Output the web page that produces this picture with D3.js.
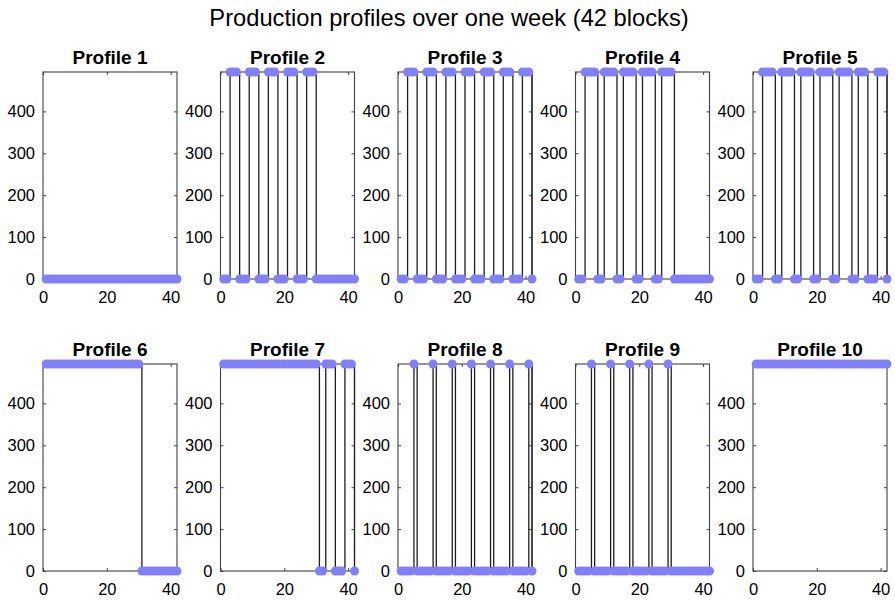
<!DOCTYPE html>
<html>
<head>
<meta charset="utf-8">
<script src="https://cdn.jsdelivr.net/npm/d3@7"></script>
<style>
  body { margin: 0; background: #fff; }
  svg { font-family: "Liberation Sans", Arial, Helvetica, sans-serif; }
</style>
</head>
<body>
<div id="chart"></div>
<script>
// production level when a block is on
var P = 494;

// 42 blocks = 7 days x 6 blocks
var profile1  = [0,0,0,0,0,0, 0,0,0,0,0,0, 0,0,0,0,0,0, 0,0,0,0,0,0, 0,0,0,0,0,0, 0,0,0,0,0,0, 0,0,0,0,0,0];
var profile2  = [0,0,P,P,P,0, 0,0,P,P,P,0, 0,0,P,P,P,0, 0,0,P,P,P,0, 0,0,P,P,P,0, 0,0,0,0,0,0, 0,0,0,0,0,0];
var profile3  = [0,0,P,P,P,0, 0,0,P,P,P,0, 0,0,P,P,P,0, 0,0,P,P,P,0, 0,0,P,P,P,0, 0,0,P,P,P,0, 0,0,P,P,P,0];
var profile4  = [0,0,P,P,P,P, 0,0,P,P,P,P, 0,0,P,P,P,P, 0,0,P,P,P,P, 0,0,P,P,P,P, 0,0,0,0,0,0, 0,0,0,0,0,0];
var profile5  = [0,0,P,P,P,P, 0,0,P,P,P,P, 0,0,P,P,P,P, 0,0,P,P,P,P, 0,0,P,P,P,P, 0,0,P,P,P,0, 0,0,P,P,P,0];
var profile6  = [P,P,P,P,P,P, P,P,P,P,P,P, P,P,P,P,P,P, P,P,P,P,P,P, P,P,P,P,P,P, 0,0,0,0,0,0, 0,0,0,0,0,0];
var profile7  = [P,P,P,P,P,P, P,P,P,P,P,P, P,P,P,P,P,P, P,P,P,P,P,P, P,P,P,P,P,P, 0,0,P,P,P,0, 0,0,P,P,P,0];
var profile8  = [0,0,0,0,P,0, 0,0,0,0,P,0, 0,0,0,0,P,0, 0,0,0,0,P,0, 0,0,0,0,P,0, 0,0,0,0,P,0, 0,0,0,0,P,0];
var profile9  = [0,0,0,0,P,0, 0,0,0,0,P,0, 0,0,0,0,P,0, 0,0,0,0,P,0, 0,0,0,0,P,0, 0,0,0,0,0,0, 0,0,0,0,0,0];
var profile10 = [P,P,P,P,P,P, P,P,P,P,P,P, P,P,P,P,P,P, P,P,P,P,P,P, P,P,P,P,P,P, P,P,P,P,P,P, P,P,P,P,P,P];

var profiles = [profile1, profile2, profile3, profile4, profile5,
                profile6, profile7, profile8, profile9, profile10];
var profileNames = ["Profile 1", "Profile 2", "Profile 3", "Profile 4", "Profile 5",
                    "Profile 6", "Profile 7", "Profile 8", "Profile 9", "Profile 10"];
var blocks = d3.range(1, 43);
var xTicks = [0, 20, 40];
var yTicks = [0, 100, 200, 300, 400];

var width = 895, height = 600;
var panelW = 134, panelH = 207;
var left0 = 43, colStep = 177.5;
var rowTops = [72, 364];
var axisColor = "#404040";

var svg = d3.select("#chart")
  .append("svg")
    .attr("width", width)
    .attr("height", height);

// figure title
svg.append("text")
  .attr("x", 449)
  .attr("y", 26)
  .attr("text-anchor", "middle")
  .style("font-size", "23.7px")
  .text("Production profiles over one week (42 blocks)");

profiles.forEach(function(vals, i) {
  var col = i % 5, row = Math.floor(i / 5);
  var g = svg.append("g")
    .attr("transform", "translate(" + (left0 + col * colStep) + "," + rowTops[row] + ")");

  var x = d3.scaleLinear().domain([0, 42]).range([0, panelW]);
  var y = d3.scaleLinear().domain([0, P]).range([panelH, 0]);

  // bottom / left axes with labels, ticks pointing inward
  var xAxis = g.append("g")
    .attr("transform", "translate(0," + panelH + ")")
    .call(d3.axisBottom(x).tickValues(xTicks).tickSizeInner(-3).tickSizeOuter(0).tickPadding(12));
  var yAxis = g.append("g")
    .call(d3.axisLeft(y).tickValues(yTicks).tickSizeInner(-3).tickSizeOuter(0).tickPadding(8));
  // mirrored ticks on top / right
  var xTop = g.append("g")
    .call(d3.axisTop(x).tickValues(xTicks).tickSizeInner(-3).tickSizeOuter(0).tickFormat(""));
  var yRight = g.append("g")
    .attr("transform", "translate(" + panelW + ",0)")
    .call(d3.axisRight(y).tickValues(yTicks).tickSizeInner(-3).tickSizeOuter(0).tickFormat(""));

  [xAxis, yAxis, xTop, yRight].forEach(function(a) {
    a.select(".domain").remove();
    a.selectAll(".tick line").attr("stroke", axisColor);
    a.selectAll("text")
      .style("font-size", "16.5px")
      .attr("fill", "#000");
  });

  // axes box
  g.append("rect")
    .attr("width", panelW)
    .attr("height", panelH)
    .attr("fill", "none")
    .attr("stroke", axisColor)
    .attr("stroke-width", 1.1);

  // stairs line
  var pts = blocks.map(function(b, j) { return [b, vals[j]]; });
  g.append("path")
    .datum(pts)
    .attr("fill", "none")
    .attr("stroke", "#1e1e1e")
    .attr("stroke-width", 1.3)
    .attr("d", d3.line()
      .x(function(d) { return x(d[0]); })
      .y(function(d) { return y(d[1]); })
      .curve(d3.curveStepAfter));

  // markers
  g.selectAll("circle")
    .data(pts)
    .enter()
    .append("circle")
      .attr("cx", function(d) { return x(d[0]); })
      .attr("cy", function(d) { return y(d[1]); })
      .attr("r", 4.5)
      .attr("fill", "#8080ff");

  // subplot title
  g.append("text")
    .attr("x", panelW / 2)
    .attr("y", -8)
    .attr("text-anchor", "middle")
    .style("font-size", "19px")
    .style("font-weight", "bold")
    .text(profileNames[i]);
});
</script>
</body>
</html>
